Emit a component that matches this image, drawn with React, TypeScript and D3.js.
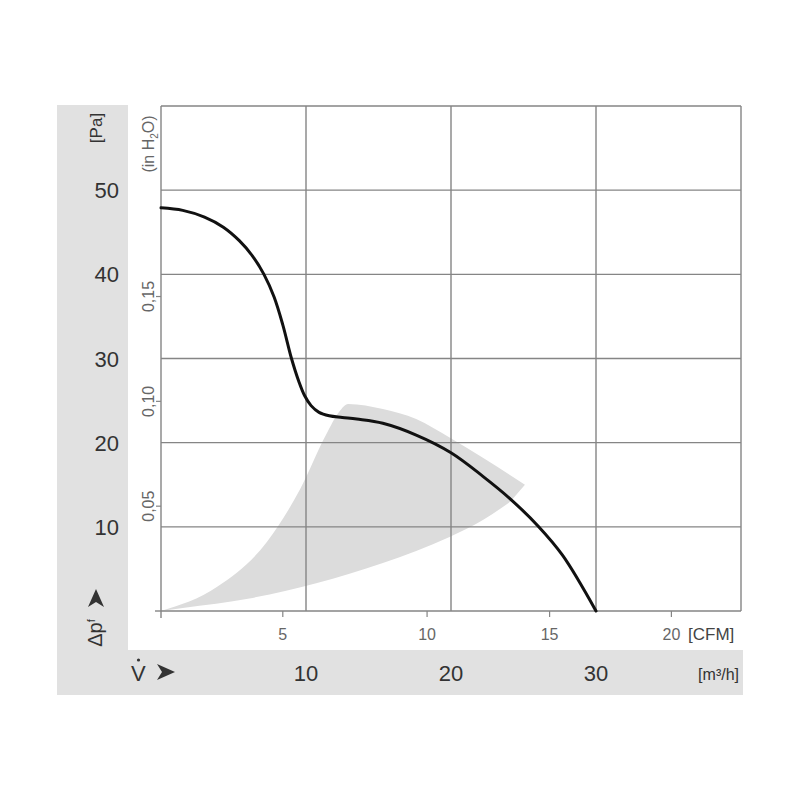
import * as d3 from 'd3';

// fan curve: flow [m³/h] vs static pressure [Pa]
const curveFlow = [0, 1.5, 3.0, 4.3, 5.4, 6.3, 7.1, 7.8, 8.4, 9.0, 9.5, 9.9, 10.35, 10.9, 11.6, 12.5, 13.5, 15.3, 17.6, 20.0, 22.2, 24.1, 26.0, 27.7, 30.0];
const curvePa = [47.9, 47.6, 46.8, 45.6, 44.0, 42.2, 40.0, 37.3, 34.0, 30.0, 27.3, 25.6, 24.4, 23.6, 23.2, 23.0, 22.8, 22.3, 20.9, 18.8, 16.0, 13.3, 10.1, 6.6, 0];

// shaded operating area: upper outline (left edge + top arc) and lower outline (from tip back to origin)
const areaUpperFlow = [0, 3.9, 7.3, 9.6, 11.4, 12.3, 12.9, 15.3, 17.6, 19.9, 22.2, 25.1];
const areaUpperPa = [0, 2.9, 8.2, 14.5, 21.0, 23.7, 24.6, 24.0, 22.8, 20.6, 18.2, 15.0];
const areaLowerFlow = [24.1, 22.2, 19.9, 15.3, 10.7, 6.1, 1.5, 0];
const areaLowerPa = [13.0, 10.8, 8.8, 5.7, 3.3, 1.5, 0.36, 0];

const paTicks = [10, 20, 30, 40, 50];
const inH2OTicks = [0.05, 0.1, 0.15];
const flowTicks = [10, 20, 30];
const cfmLabels = ['5', '10', '15', '20'];
const cfmFlowPos = [8.4, 18.35, 26.8, 35.2];

const PA_PER_INH2O = 249.09;
const font = "'Liberation Sans', Arial, Helvetica, sans-serif";

export default function App() {
  const x = d3.scaleLinear().domain([0, 40]).range([161, 741]);
  const y = d3.scaleLinear().domain([0, 60]).range([611, 106]);

  const pts = (fs: number[], ps: number[]): [number, number][] => fs.map((f, i) => [f, ps[i]]);

  const line = d3
    .line<[number, number]>()
    .x((d) => x(d[0]))
    .y((d) => y(d[1]))
    .curve(d3.curveMonotoneX);

  const fanLine = d3
    .line<[number, number]>()
    .x((d) => x(d[0]))
    .y((d) => y(d[1]))
    .curve(d3.curveCatmullRom.alpha(0.5));

  const upperPath = line(pts(areaUpperFlow, areaUpperPa)) || '';
  const lowerPath = (line(pts(areaLowerFlow, areaLowerPa)) || '').replace(/^M/, 'L');
  const areaPath = upperPath + lowerPath + 'Z';

  const gridColor = '#858585';
  const bandColor = '#e1e1e1';

  return (
    <svg
      width={800}
      height={800}
      style={{ position: 'absolute', left: 0, top: 0, background: '#fff' }}
      fontFamily={font}
    >
      {/* grey label bands */}
      <rect x={57} y={105} width={71} height={590} fill={bandColor} />
      <rect x={57} y={650} width={686} height={45} fill={bandColor} />

      {/* operating area */}
      <path d={areaPath} fill="#dcdcdc" />

      {/* grid */}
      {[0, ...paTicks, 60].map((p) => (
        <line key={'h' + p} x1={x(0)} x2={x(40)} y1={y(p)} y2={y(p)} stroke={gridColor} strokeWidth={1.4} />
      ))}
      {[0, ...flowTicks, 40].map((f) => (
        <line key={'v' + f} x1={x(f)} x2={x(f)} y1={y(60)} y2={y(0)} stroke={gridColor} strokeWidth={1.4} />
      ))}
      {/* axis overhang */}
      <line x1={x(0)} x2={x(0)} y1={y(0)} y2={y(0) + 7} stroke={gridColor} strokeWidth={1.4} />
      <line x1={x(0) - 6} x2={x(0)} y1={y(0)} y2={y(0)} stroke={gridColor} strokeWidth={1.4} />

      {/* inH2O ticks */}
      {inH2OTicks.map((t) => (
        <g key={'w' + t}>
          <line
            x1={x(0) - 5}
            x2={x(0)}
            y1={y(t * PA_PER_INH2O)}
            y2={y(t * PA_PER_INH2O)}
            stroke={gridColor}
            strokeWidth={1.2}
          />
          <text
            transform={`translate(154,${y(t * PA_PER_INH2O)}) rotate(-90)`}
            textAnchor="middle"
            fontSize={16}
            fill="#666"
          >
            {t.toFixed(2).replace('.', ',')}
          </text>
        </g>
      ))}
      <text transform={`translate(154,144) rotate(-90)`} textAnchor="middle" fontSize={16} fill="#666">
        (in H<tspan fontSize={10} dy={4}>2</tspan>
        <tspan dy={-4}>O)</tspan>
      </text>

      {/* CFM ticks */}
      {cfmLabels.map((l, i) => (
        <g key={'c' + l}>
          <line x1={x(cfmFlowPos[i])} x2={x(cfmFlowPos[i])} y1={y(0)} y2={y(0) + 6} stroke={gridColor} strokeWidth={1.2} />
          <text x={x(cfmFlowPos[i])} y={640} textAnchor="middle" fontSize={16} fill="#666">
            {l}
          </text>
        </g>
      ))}
      <text x={688} y={640} fontSize={17} fill="#444">
        [CFM]
      </text>

      {/* Pa labels */}
      {paTicks.map((p) => (
        <text key={'p' + p} x={119} y={y(p) + 8} textAnchor="end" fontSize={22} fill="#333">
          {p}
        </text>
      ))}
      <text transform="translate(102,128) rotate(-90)" textAnchor="middle" fontSize={17} fill="#333">
        [Pa]
      </text>
      <text transform="translate(102,633) rotate(-90)" textAnchor="middle" fontSize={20} fill="#333">
        Δp<tspan fontSize={11} dy={-7}>f</tspan>
      </text>
      <path d="M88,607 L96,589 L104,607 L96,602 Z" fill="#333" />

      {/* m³/h labels */}
      {flowTicks.map((f) => (
        <text key={'f' + f} x={x(f)} y={681} textAnchor="middle" fontSize={22} fill="#333">
          {f}
        </text>
      ))}
      <text x={131} y={681} fontSize={22} fill="#333">
        V
      </text>
      <circle cx={138.5} cy={660} r={1.6} fill="#333" />
      <path d="M157,664 L175,672 L157,680 L162,672 Z" fill="#333" />
      <text x={739} y={680} textAnchor="end" fontSize={16} fill="#333">
        [m³/h]
      </text>

      {/* fan curve */}
      <path d={fanLine(pts(curveFlow, curvePa)) || ''} fill="none" stroke="#111" strokeWidth={3} strokeLinecap="round" />
    </svg>
  );
}
